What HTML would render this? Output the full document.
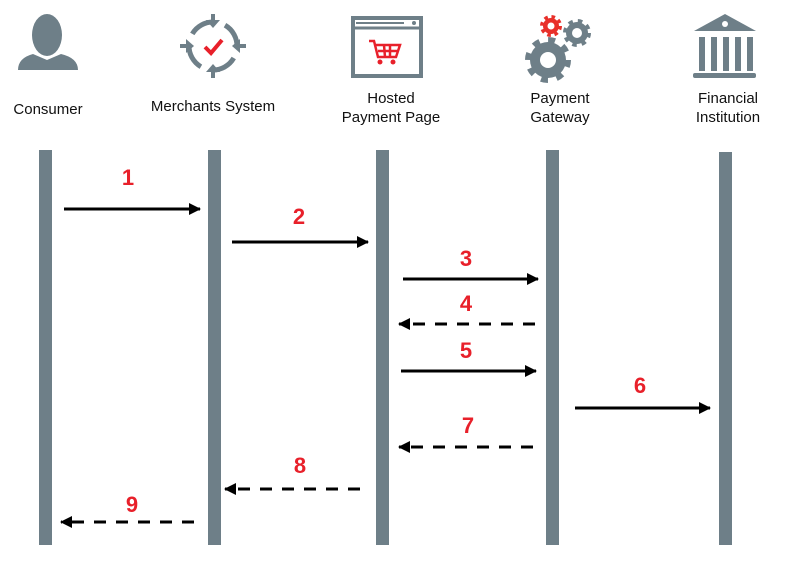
<!DOCTYPE html>
<html><head><meta charset="utf-8"><style>
html,body{margin:0;padding:0;background:#fff}
svg{display:block}
text{font-family:"Liberation Sans",Arial,sans-serif}
.lbl{font-size:15px;fill:#111}
.num{font-size:22px;font-weight:bold;fill:#e8202a}
</style></head><body>
<svg width="793" height="587" viewBox="0 0 793 587" xmlns="http://www.w3.org/2000/svg">
<defs>
<marker id="ah" markerWidth="12" markerHeight="12" refX="11" refY="6" orient="auto" markerUnits="userSpaceOnUse">
<path d="M0,0 L12,6 L0,12 Z" fill="#000"/></marker>
</defs>
<!-- Consumer icon -->
<g fill="#6e7f88">
<ellipse cx="47" cy="35" rx="15" ry="21"/>
<path d="M18,70 Q18,58 33,54 L47,60 L61,54 Q78,58 78,70 Z"/>
</g>
<!-- Merchants icon -->
<g stroke="#6e7f88" stroke-width="5" fill="none">
<circle cx="213" cy="46" r="24" stroke-dasharray="26 11.7" transform="rotate(-60 213 46)"/>
</g>
<g fill="#6e7f88">
<rect x="211" y="14" width="4" height="10"/><path d="M206,20 L220,20 L213,28 Z"/>
<rect x="211" y="68" width="4" height="10"/><path d="M206,72 L220,72 L213,64 Z"/>
<rect x="180" y="44" width="10" height="4"/><path d="M186,39 L186,53 L194,46 Z"/>
<rect x="236" y="44" width="10" height="4"/><path d="M240,39 L240,53 L232,46 Z"/>
</g>
<path d="M205,47 L211,53 L222,40" stroke="#e8202a" stroke-width="4" fill="none"/>
<!-- Hosted payment page icon -->
<rect x="353" y="18" width="68" height="58" fill="none" stroke="#6e7f88" stroke-width="4"/>
<line x1="353" y1="28" x2="421" y2="28" stroke="#6e7f88" stroke-width="3"/>
<line x1="356" y1="23" x2="404" y2="23" stroke="#6e7f88" stroke-width="2"/>
<circle cx="414" cy="23" r="2" fill="#6e7f88"/>
<g stroke="#e8202a" stroke-width="2.5" fill="none">
<path d="M369,41 L374,41 L378,57 L396,57 L400,45 L376,45"/>
<line x1="378" y1="51" x2="398" y2="51"/><line x1="384" y1="45" x2="385" y2="57"/><line x1="390" y1="45" x2="390" y2="57"/>
</g>
<circle cx="380" cy="62" r="2.5" fill="#e8202a"/><circle cx="393" cy="62" r="2.5" fill="#e8202a"/>
<!-- Gears -->
<g fill="#6e7f88">
<circle cx="548" cy="60" r="18"/>
<circle cx="548" cy="60" r="20" fill="none" stroke="#6e7f88" stroke-width="6" stroke-dasharray="7 8.7"/>
<circle cx="577" cy="33" r="11"/>
<circle cx="577" cy="33" r="12" fill="none" stroke="#6e7f88" stroke-width="4" stroke-dasharray="4.5 5"/>
</g>
<circle cx="548" cy="60" r="8" fill="#fff"/>
<circle cx="577" cy="33" r="5" fill="#fff"/>
<circle cx="551" cy="26" r="8" fill="#e8302a"/>
<circle cx="551" cy="26" r="9" fill="none" stroke="#e8302a" stroke-width="4" stroke-dasharray="3.5 3.6"/>
<circle cx="551" cy="26" r="3.5" fill="#fff"/>
<!-- Bank -->
<g fill="#6e7f88">
<path d="M694,31 L725,14 L756,31 Z"/>
<rect x="699" y="37" width="6" height="34"/><rect x="711" y="37" width="6" height="34"/><rect x="723" y="37" width="6" height="34"/><rect x="735" y="37" width="6" height="34"/><rect x="747" y="37" width="6" height="34"/>
<rect x="693" y="73" width="63" height="5" rx="2"/>
</g>
<circle cx="725" cy="24" r="3" fill="#fff"/>
<!-- Labels -->
<text class="lbl" x="48" y="114" text-anchor="middle">Consumer</text>
<text class="lbl" x="213" y="111" text-anchor="middle">Merchants System</text>
<text class="lbl" x="391" y="103" text-anchor="middle">Hosted</text>
<text class="lbl" x="391" y="122" text-anchor="middle">Payment Page</text>
<text class="lbl" x="560" y="103" text-anchor="middle">Payment</text>
<text class="lbl" x="560" y="122" text-anchor="middle">Gateway</text>
<text class="lbl" x="728" y="103" text-anchor="middle">Financial</text>
<text class="lbl" x="728" y="122" text-anchor="middle">Institution</text>
<!-- Lifelines -->
<g fill="#6e7f88">
<rect x="39" y="150" width="13" height="395"/>
<rect x="208" y="150" width="13" height="395"/>
<rect x="376" y="150" width="13" height="395"/>
<rect x="546" y="150" width="13" height="395"/>
<rect x="719" y="152" width="13" height="393"/>
</g>
<!-- Arrows -->
<g stroke="#000" stroke-width="3" fill="none" marker-end="url(#ah)">
<line x1="64" y1="209" x2="200" y2="209"/>
<line x1="232" y1="242" x2="368" y2="242"/>
<line x1="403" y1="279" x2="538" y2="279"/>
<line x1="535" y1="324" x2="399" y2="324" stroke-dasharray="12 10"/>
<line x1="401" y1="371" x2="536" y2="371"/>
<line x1="575" y1="408" x2="710" y2="408"/>
<line x1="533" y1="447" x2="399" y2="447" stroke-dasharray="12 10"/>
<line x1="360" y1="489" x2="225" y2="489" stroke-dasharray="12 10"/>
<line x1="194" y1="522" x2="61" y2="522" stroke-dasharray="12 10"/>
</g>
<text class="num" x="128" y="185" text-anchor="middle">1</text>
<text class="num" x="299" y="224" text-anchor="middle">2</text>
<text class="num" x="466" y="266" text-anchor="middle">3</text>
<text class="num" x="466" y="311" text-anchor="middle">4</text>
<text class="num" x="466" y="358" text-anchor="middle">5</text>
<text class="num" x="640" y="393" text-anchor="middle">6</text>
<text class="num" x="468" y="433" text-anchor="middle">7</text>
<text class="num" x="300" y="473" text-anchor="middle">8</text>
<text class="num" x="132" y="512" text-anchor="middle">9</text>
</svg>
</body></html>
